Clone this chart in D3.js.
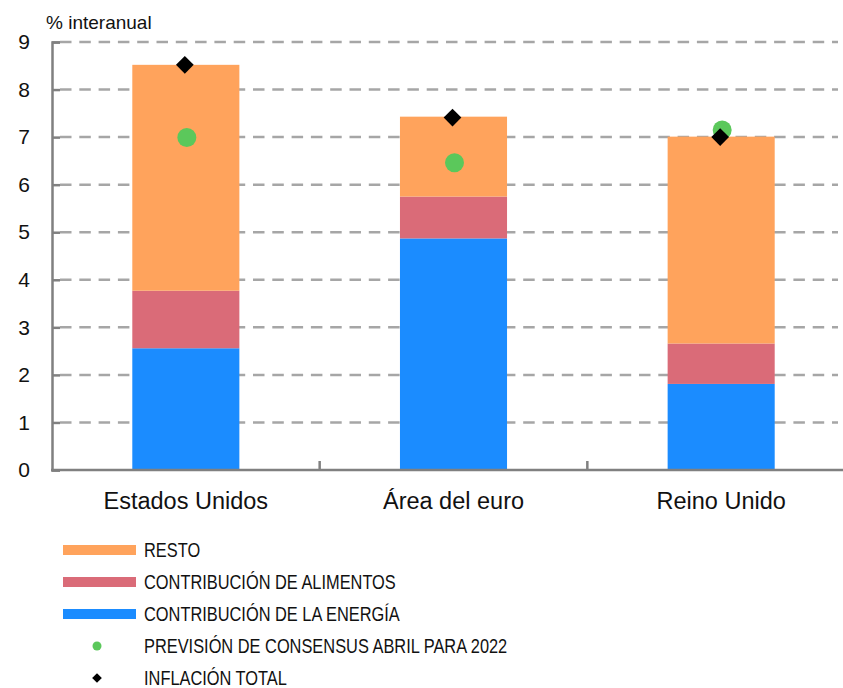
<!DOCTYPE html>
<html>
<head>
<meta charset="utf-8">
<script src="https://cdn.jsdelivr.net/npm/d3@7"></script>
<style>
  body { margin: 0; background: #fff; }
  svg { display: block; font-family: "Liberation Sans", Arial, sans-serif; }
</style>
</head>
<body>
<div id="chart"></div>
<script>
// categories and series (values in % interanual)
const regions = ['Estados Unidos', 'Área del euro', 'Reino Unido'];
const energia = [2.56, 4.87, 1.81];
const alimentos = [1.21, 0.88, 0.85];
const resto = [4.75, 1.68, 4.35];
const consenso = [6.99, 6.46, 7.15];
const inflacionTotal = [8.52, 7.41, 7.0];
const yTicks = [0, 1, 2, 3, 4, 5, 6, 7, 8, 9];

const seriesNames = ['CONTRIBUCIÓN DE LA ENERGÍA', 'CONTRIBUCIÓN DE ALIMENTOS', 'RESTO'];
const seriesColors = ['#1b8cff', '#da6b78', '#ffa35c'];

const width = 843;
const height = 688;
const margin = { top: 42, right: -12, bottom: 218, left: 52 };

const svg = d3.select('#chart')
  .append('svg')
  .attr('width', width)
  .attr('height', height);

const x = d3.scaleBand()
  .domain(regions)
  .range([margin.left, width - margin.right])
  .paddingInner(0.6)
  .paddingOuter(0.3);

const y = d3.scaleLinear()
  .domain([0, 9])
  .range([height - margin.bottom, margin.top]);

// gridlines (behind bars)
svg.append('g')
  .attr('class', 'grid')
  .selectAll('line')
  .data(yTicks.filter(d => d > 0))
  .join('line')
  .attr('x1', margin.left + 8)
  .attr('x2', 838)
  .attr('y1', d => y(d))
  .attr('y2', d => y(d))
  .attr('stroke', '#a6a6a6')
  .attr('stroke-width', 2.5)
  .attr('stroke-dasharray', '11.5 7.8');

// stacked bars
const rows = regions.map((r, i) => ({ region: r, e: energia[i], a: alimentos[i], r: resto[i] }));
const stack = d3.stack().keys(['e', 'a', 'r'])(rows);

svg.append('g')
  .selectAll('g')
  .data(stack)
  .join('g')
  .attr('fill', (d, i) => seriesColors[i])
  .selectAll('rect')
  .data(d => d)
  .join('rect')
  .attr('x', d => x(d.data.region))
  .attr('width', x.bandwidth())
  .attr('y', d => y(d[1]))
  .attr('height', d => y(d[0]) - y(d[1]));

// axes
const axisColor = '#808080';
const yAxis = svg.append('g')
  .attr('transform', `translate(${margin.left},0)`)
  .call(d3.axisLeft(y).tickValues(yTicks).tickSize(-8).tickPadding(22));
yAxis.select('.domain').attr('stroke', axisColor).attr('stroke-width', 2.5);
yAxis.selectAll('.tick line').attr('stroke', axisColor).attr('stroke-width', 2.5);
yAxis.selectAll('.tick text')
  .attr('font-size', 21)
  .attr('fill', '#111')
  .attr('font-family', '"Liberation Sans", Arial, sans-serif');

const xAxisG = svg.append('g')
  .attr('transform', `translate(0,${y(0)})`);
xAxisG.append('line')
  .attr('x1', margin.left - 1)
  .attr('x2', width)
  .attr('stroke', axisColor)
  .attr('stroke-width', 2.5);
const step = x.step();
xAxisG.selectAll('line.tick')
  .data(regions.slice(1))
  .join('line')
  .attr('class', 'tick')
  .attr('x1', d => x(d) - step * x.paddingInner() / 2)
  .attr('x2', d => x(d) - step * x.paddingInner() / 2)
  .attr('y1', 0)
  .attr('y2', -9)
  .attr('stroke', axisColor)
  .attr('stroke-width', 2.5);
xAxisG.selectAll('text')
  .data(regions)
  .join('text')
  .attr('x', d => x(d) + x.bandwidth() / 2)
  .attr('y', 39)
  .attr('text-anchor', 'middle')
  .attr('font-size', 23.5)
  .attr('fill', '#111')
  .text(d => d);

// unit label
svg.append('text')
  .attr('x', 46)
  .attr('y', 29)
  .attr('font-size', 19)
  .attr('fill', '#111')
  .text('% interanual');

// markers: consensus forecast and total inflation
const cx = d => x(d) + x.bandwidth() / 2;
svg.append('g')
  .selectAll('circle')
  .data(regions)
  .join('circle')
  .attr('cx', (d) => cx(d) + 1)
  .attr('cy', (d, i) => y(consenso[i]))
  .attr('r', 9.5)
  .attr('fill', '#5bc85b');

const diamond = d3.symbol().type(d3.symbolDiamond2).size(200);
svg.append('g')
  .selectAll('path')
  .data(regions)
  .join('path')
  .attr('transform', (d, i) => `translate(${cx(d) - 1},${y(inflacionTotal[i])})`)
  .attr('d', diamond)
  .attr('fill', '#000');

// legend
const legendItems = [
  { name: 'RESTO', type: 'rect', color: seriesColors[2] },
  { name: seriesNames[1], type: 'rect', color: seriesColors[1] },
  { name: seriesNames[0], type: 'rect', color: seriesColors[0] },
  { name: 'PREVISIÓN DE CONSENSUS ABRIL PARA 2022', type: 'circle', color: '#5bc85b' },
  { name: 'INFLACIÓN TOTAL', type: 'diamond', color: '#000' },
];
const legend = svg.append('g').attr('class', 'legend');
const lg = legend.selectAll('g')
  .data(legendItems)
  .join('g')
  .attr('transform', (d, i) => `translate(0,${550 + i * 32})`);
lg.filter(d => d.type === 'rect').append('rect')
  .attr('x', 63).attr('y', -5).attr('width', 73).attr('height', 10)
  .attr('fill', d => d.color);
lg.filter(d => d.type === 'circle').append('circle')
  .attr('cx', 97).attr('r', 4.5).attr('fill', d => d.color);
lg.filter(d => d.type === 'diamond').append('path')
  .attr('transform', 'translate(97,0)')
  .attr('d', d3.symbol().type(d3.symbolDiamond2).size(60))
  .attr('fill', d => d.color);
// condensed look: squeeze the text horizontally
lg.append('text')
  .attr('transform', 'translate(144,7) scale(0.82,1)')
  .attr('font-size', 20)
  .attr('fill', '#111')
  .text(d => d.name);
</script>
</body>
</html>
